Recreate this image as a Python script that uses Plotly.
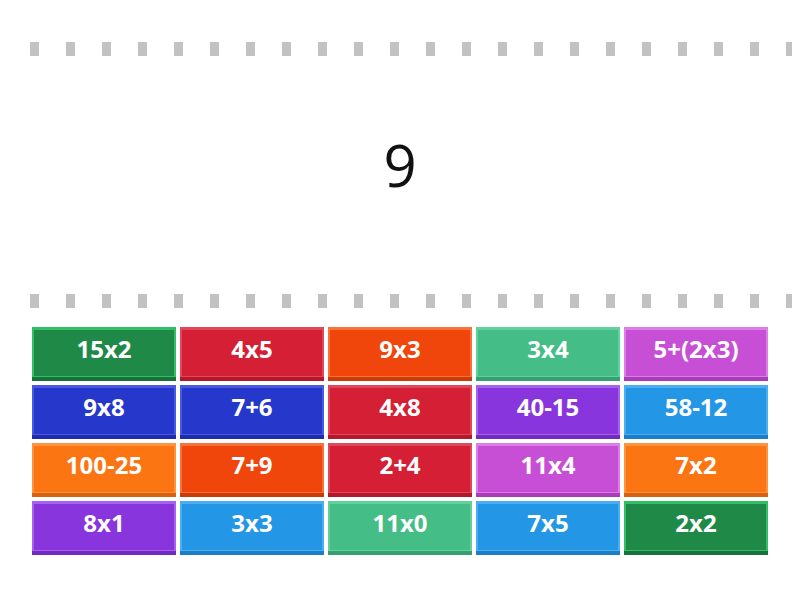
import plotly.graph_objects as go

question = "9"
labels = [
    ["15x2", "4x5", "9x3", "3x4", "5+(2x3)"],
    ["9x8", "7+6", "4x8", "40-15", "58-12"],
    ["100-25", "7+9", "2+4", "11x4", "7x2"],
    ["8x1", "3x3", "11x0", "7x5", "2x2"],
]
colors = [
    ["green", "red", "orangered", "teal", "pink"],
    ["blue", "blue", "red", "violet", "sky"],
    ["orange", "orangered", "red", "pink", "orange"],
    ["violet", "sky", "teal", "sky", "green"],
]
palette = {
    # (edge, face, bottom)
    "green": ("#2fc064", "#1f8a48", "#19703a"),
    "red": ("#e0475a", "#d41f35", "#b5182b"),
    "orangered": ("#f9713a", "#f0460c", "#cc3a08"),
    "teal": ("#62d09c", "#45bd86", "#37a070"),
    "pink": ("#dd7ee6", "#c74fd6", "#aa3cba"),
    "blue": ("#4a5ae0", "#2637cc", "#1e2cab"),
    "violet": ("#a463ec", "#8835de", "#722abf"),
    "sky": ("#4aaef0", "#2396e6", "#1a7fc6"),
    "orange": ("#ff9340", "#fb7613", "#d6620c"),
}

x0, y0, w, h, gap = 32, 327, 144, 54, 4

fig = go.Figure()
shapes = []
ax, ay, at = [], [], []
for r, row in enumerate(labels):
    for c, lab in enumerate(row):
        edge, face, bottom = palette[colors[r][c]]
        xl = x0 + c * (w + gap)
        yt = y0 + r * (h + gap)
        shapes.append(dict(type="rect", x0=xl, x1=xl + w, y0=yt, y1=yt + h,
                           fillcolor=bottom, line_width=0, layer="below"))
        shapes.append(dict(type="rect", x0=xl, x1=xl + w, y0=yt, y1=yt + h - 4,
                           fillcolor=edge, line_width=0, layer="below"))
        shapes.append(dict(type="rect", x0=xl + 2, x1=xl + w - 2, y0=yt + 3, y1=yt + h - 5,
                           fillcolor=face, line_width=0, layer="below"))
        ax.append(xl + w / 2)
        ay.append(yt + h / 2 - 2)
        at.append(lab)

# dashed separators
for yl, yh in [(42, 56), (294, 308)]:
    xs = -6
    while xs < 800:
        shapes.append(dict(type="rect", x0=xs, x1=xs + 9, y0=yl, y1=yh,
                           fillcolor="#c2c2c2", line_width=0, layer="below"))
        xs += 36

fig.add_trace(go.Scatter(x=ax, y=ay, text=at, mode="text",
                         textfont=dict(family="Open Sans", size=24, color="white", weight="bold"),
                         hoverinfo="skip"))
fig.add_trace(go.Scatter(x=[400], y=[172], text=[question], mode="text",
                         textfont=dict(family="Open Sans", size=58, color="#111111"),
                         hoverinfo="skip"))

# page body has an 8px margin, so shift the ranges to line up with the window
fig.update_layout(
    width=800, height=600, margin=dict(l=0, r=0, t=0, b=0),
    paper_bgcolor="white", plot_bgcolor="white", showlegend=False, shapes=shapes,
    xaxis=dict(range=[8, 808], visible=False, fixedrange=True),
    yaxis=dict(range=[608, 8], visible=False, fixedrange=True),
)
fig.write_html("out.html")
